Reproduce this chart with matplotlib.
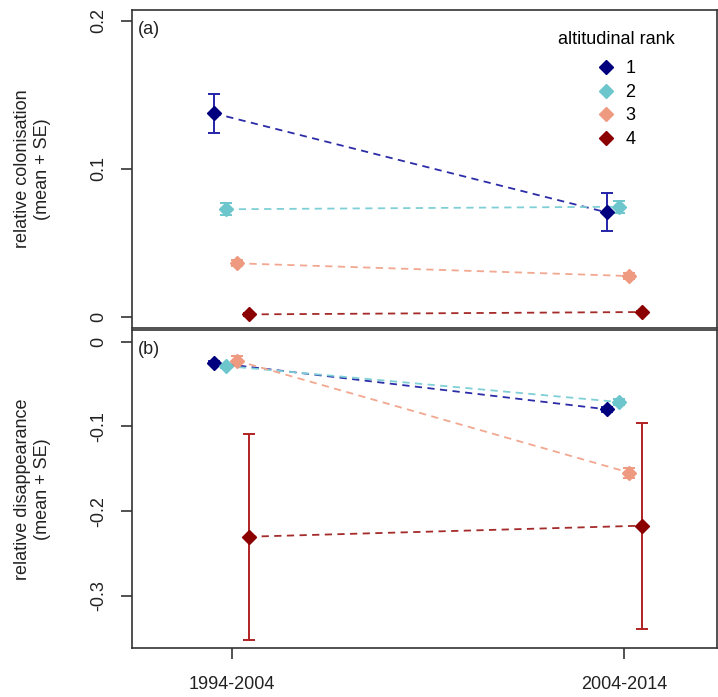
import matplotlib
matplotlib.use("Agg")
import matplotlib.pyplot as plt
import numpy as np

plt.rcParams['font.family'] = ['Liberation Sans', 'DejaVu Sans']

periods = ["1994-2004", "2004-2014"]
ranks = ["1", "2", "3", "4"]

# relative colonisation (mean, SE) per rank, per period
col_mean = {"1": [0.1376, 0.0707], "2": [0.0728, 0.0745],
            "3": [0.0363, 0.0277], "4": [0.0018, 0.0034]}
col_se = {"1": [0.0130, 0.0128], "2": [0.0040, 0.0040],
          "3": [0.0020, 0.0020], "4": [0.0010, 0.0010]}

# relative disappearance (mean, SE)
dis_mean = {"1": [-0.0248, -0.0798], "2": [-0.0287, -0.0712],
            "3": [-0.0224, -0.1546], "4": [-0.2302, -0.2172]}
dis_se = {"1": [0.0020, 0.0030], "2": [0.0020, 0.0030],
          "3": [0.0060, 0.0060], "4": [0.1214, 0.1214]}

marker_cols = {"1": "#00007F", "2": "#6CC6CC", "3": "#EE9A80", "4": "#8B0000"}
err_cols = {"1": "#2424A8", "2": "#6CC6CC", "3": "#EE9A80", "4": "#B02222"}
line_cols = {"1": "#2C2CA8", "2": "#7FD0D6", "3": "#F2A890", "4": "#A52A2A"}
offsets = {"1": -0.045, "2": -0.014, "3": 0.013, "4": 0.044}

fig = plt.figure(figsize=(7.18, 6.97), dpi=100)
ax1 = fig.add_axes([0.1838, 0.5294, 0.8148, 0.4563])
ax2 = fig.add_axes([0.1838, 0.0703, 0.8148, 0.4562])

base_x = np.arange(1, len(periods) + 1)
fs = 13

def draw(ax, means, ses):
    for r in ranks:
        x = base_x + offsets[r]
        m = np.array(means[r]); s = np.array(ses[r])
        ax.errorbar(x, m, yerr=s, fmt="none", ecolor=err_cols[r], elinewidth=1.4,
                    capsize=4.5, capthick=1.4, zorder=2)
        ax.plot(x, m, linestyle=(0, (4, 3)), color=line_cols[r], lw=1.3, zorder=3)
        ax.plot(x, m, linestyle="none", marker="D", ms=7, color=marker_cols[r],
                mec=marker_cols[r], zorder=4)
    ax.set_xlim(0.746, 2.236)
    for sp in ax.spines.values():
        sp.set_linewidth(1.2)
        sp.set_color("#333333")
    ax.tick_params(axis="y", labelsize=fs, length=8, width=1.2, colors="#333333",
                   labelcolor="#222222", pad=10)

draw(ax1, col_mean, col_se)
ax1.set_ylim(-0.0074, 0.2074)
ax1.set_yticks([0, 0.1, 0.2])
ax1.set_yticklabels(["0", "0.1", "0.2"], rotation=90, va="center")
ax1.set_xticks([])
ax1.set_ylabel("relative colonisation\n(mean + SE)", fontsize=fs, labelpad=28,
               color="#222222")
ax1.text(0.010, 0.965, "(a)", transform=ax1.transAxes, fontsize=fs, va="top",
         ha="left", color="#222222")

draw(ax2, dis_mean, dis_se)
ax2.set_ylim(-0.3616, 0.0138)
ax2.set_yticks([0, -0.1, -0.2, -0.3])
ax2.set_yticklabels(["0", "-0.1", "-0.2", "-0.3"], rotation=90, va="center")
ax2.set_xticks(base_x)
ax2.set_xticklabels(periods, fontsize=fs, color="#222222")
ax2.tick_params(axis="x", length=8, width=1.2, colors="#333333", labelcolor="#222222",
                pad=12)
ax2.set_ylabel("relative disappearance\n(mean + SE)", fontsize=fs, labelpad=28,
               color="#222222")
ax2.text(0.010, 0.965, "(b)", transform=ax2.transAxes, fontsize=fs, va="top",
         ha="left", color="#222222")

handles = [plt.Line2D([], [], linestyle="none", marker="D", ms=7,
                      color=marker_cols[r]) for r in ranks]
leg = ax1.legend(handles, ranks, title="altitudinal rank", loc="upper right",
                 bbox_to_anchor=(0.955, 0.985), frameon=False, fontsize=fs,
                 title_fontsize=fs, handlelength=1.0, handletextpad=0.6,
                 labelspacing=0.36)
leg._legend_box.align = "center"
leg._legend_box.sep = 9

fig.savefig("out.png", dpi=100)
